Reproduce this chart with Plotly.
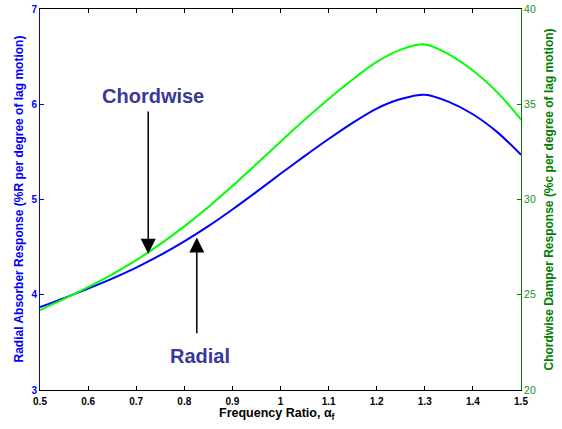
import plotly.graph_objects as go

# Frequency ratio samples
freq_ratio = [0.50, 0.55, 0.60, 0.65, 0.70, 0.75, 0.80, 0.85, 0.90, 0.95, 1.00,
              1.05, 1.10, 1.15, 1.20, 1.25, 1.30, 1.35, 1.40, 1.45, 1.50]

# Radial absorber response (%R per degree of lag motion)
radial = [3.870, 3.965, 4.065, 4.170, 4.285, 4.415, 4.560, 4.720, 4.895, 5.080, 5.270,
          5.455, 5.635, 5.805, 5.955, 6.055, 6.100, 6.025, 5.895, 5.710, 5.470]

# Chordwise damper response (%c per degree of lag motion)
chordwise = [24.20, 24.78, 25.40, 26.07, 26.82, 27.66, 28.59, 29.61, 30.71, 31.86, 33.03,
             34.18, 35.28, 36.30, 37.22, 37.87, 38.14, 37.62, 36.77, 35.65, 34.20]

x_ticks = [0.5, 0.6, 0.7, 0.8, 0.9, 1.0, 1.1, 1.2, 1.3, 1.4, 1.5]
x_tick_text = ["0.5", "0.6", "0.7", "0.8", "0.9", "1", "1.1", "1.2", "1.3", "1.4", "1.5"]
left_ticks = [3, 4, 5, 6, 7]
right_ticks = [20, 25, 30, 35, 40]

BLUE = "#0000FF"
GREEN_LINE = "#00FF00"
GREEN_AXIS = "#008000"
GREEN_TEXT = "#1E8C1E"
LABEL_COLOR = "#39399A"
FONT = "Liberation Sans, Arial, Helvetica, sans-serif"

fig = go.Figure()
fig.add_trace(go.Scatter(x=freq_ratio, y=chordwise, mode="lines", yaxis="y2",
                         line=dict(color=GREEN_LINE, width=2, shape="spline", smoothing=0.9),
                         showlegend=False, hoverinfo="skip"))
fig.add_trace(go.Scatter(x=freq_ratio, y=radial, mode="lines", yaxis="y",
                         line=dict(color=BLUE, width=2, shape="spline", smoothing=0.9),
                         showlegend=False, hoverinfo="skip"))

# Arrows pointing at the two curves
arrow_common = dict(text="", showarrow=True, arrowhead=2, arrowsize=2, arrowwidth=1.5,
                    arrowcolor="black", xref="x", yref="y", axref="x", ayref="y")
fig.add_annotation(x=0.725, y=4.43, ax=0.725, ay=5.94, **arrow_common)
fig.add_annotation(x=0.826, y=4.60, ax=0.826, ay=3.58, **arrow_common)

label_font = dict(family=FONT, size=20, color=LABEL_COLOR, weight="bold")
fig.add_annotation(x=0.7356, y=6.087, text="Chordwise", showarrow=False,
                   xref="x", yref="y", font=label_font)
fig.add_annotation(x=0.8326, y=3.357, text="Radial", showarrow=False,
                   xref="x", yref="y", font=label_font)

# Axis titles placed beside the plot frame
fig.add_annotation(x=0, y=0.5, xref="paper", yref="paper", xanchor="center", yanchor="middle",
                   xshift=-22, textangle=-90, showarrow=False,
                   text="Radial Absorber Response (%R per degree of lag motion)",
                   font=dict(family=FONT, size=12, color=BLUE, weight="bold"))
fig.add_annotation(x=1, y=0.5, xref="paper", yref="paper", xanchor="center", yanchor="middle",
                   xshift=27, textangle=-90, showarrow=False,
                   text="Chordwise Damper Response (%c per degree of lag motion)",
                   font=dict(family=FONT, size=12, color=GREEN_AXIS, weight="bold"))
fig.add_annotation(x=0.5, y=0, xref="paper", yref="paper", xanchor="center", yanchor="middle",
                   xshift=-4, yshift=-24, showarrow=False,
                   text="Frequency Ratio, α<sub>f</sub>",
                   font=dict(family=FONT, size=12.5, color="black", weight="bold"))

fig.update_layout(
    template="none",
    width=562, height=429,
    margin=dict(l=40, r=41, t=9, b=39),
    paper_bgcolor="white", plot_bgcolor="white",
    xaxis=dict(
        range=[0.5, 1.5], tickvals=x_ticks, ticktext=x_tick_text,
        ticks="inside", ticklen=4, tickcolor="black", tickwidth=1,
        showline=True, linecolor="black", linewidth=1, mirror="ticks",
        showgrid=False, zeroline=False, automargin=False, ticklabelstandoff=2,
        tickfont=dict(family=FONT, size=10, color="black", weight="bold"),
    ),
    yaxis=dict(
        range=[3, 7], tickvals=left_ticks,
        ticks="inside", ticklen=4, tickcolor=BLUE, tickwidth=1,
        showline=True, linecolor=BLUE, linewidth=1,
        showgrid=False, zeroline=False, automargin=False,
        tickfont=dict(family=FONT, size=10, color=BLUE, weight="bold"),
    ),
    yaxis2=dict(
        range=[20, 40], tickvals=right_ticks, overlaying="y", side="right",
        ticks="inside", ticklen=4, tickcolor=GREEN_AXIS, tickwidth=1,
        showline=True, linecolor=GREEN_AXIS, linewidth=1,
        showgrid=False, zeroline=False, automargin=False,
        tickfont=dict(family=FONT, size=10.5, color=GREEN_TEXT),
    ),
)

fig.write_html("out.html")
